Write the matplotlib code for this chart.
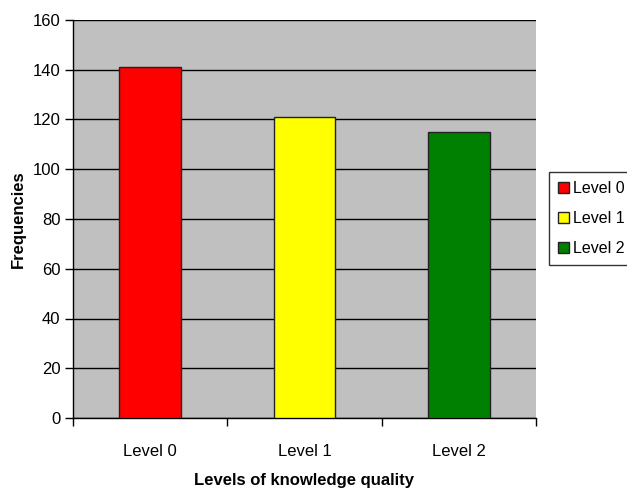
import matplotlib
matplotlib.use("Agg")
import matplotlib.pyplot as plt
from matplotlib.patches import Patch

categories = ["Level 0", "Level 1", "Level 2"]
frequencies = [141, 121, 115]
bar_colors = ["#FF0000", "#FFFF00", "#008000"]
y_ticks = [0, 20, 40, 60, 80, 100, 120, 140, 160]

plt.rcParams["font.family"] = ["Liberation Sans", "DejaVu Sans"]

fig = plt.figure(figsize=(6.27, 4.91), dpi=100)
ax = fig.add_axes([73 / 627, 73 / 491, 463 / 627, 398 / 491])
ax.set_facecolor("#C0C0C0")

x = list(range(len(categories)))
ax.bar(x, frequencies, width=0.4, color=bar_colors, edgecolor="#222222",
       linewidth=1.0, zorder=3)

ax.set_xlim(-0.5, len(categories) - 0.5)
ax.set_ylim(0, 160)
ax.set_yticks(y_ticks)
ax.yaxis.grid(True, color="#000000", linewidth=1.0, zorder=1)
ax.set_axisbelow(True)

# category boundaries get the tick marks, labels sit at category centres
ax.set_xticks([i - 0.5 for i in range(len(categories) + 1)])
ax.set_xticklabels([])
ax.set_xticks(x, minor=True)
ax.set_xticklabels(categories, minor=True)
ax.tick_params(axis="x", which="major", length=6, width=1, direction="out", color="#000000")
ax.tick_params(axis="x", which="minor", length=0, pad=19, labelsize=12)
ax.tick_params(axis="y", length=6, width=1, direction="out", labelsize=12, pad=3)

for side in ("top", "right"):
    ax.spines[side].set_visible(False)
for side in ("left", "bottom"):
    ax.spines[side].set_color("#000000")
    ax.spines[side].set_linewidth(1.0)

ax.set_ylabel("Frequencies", fontsize=12, fontweight="bold", labelpad=5)
ax.set_xlabel("Levels of knowledge quality", fontsize=12, fontweight="bold", labelpad=10)

handles = [Patch(facecolor=c, edgecolor="#222222", linewidth=1.0) for c in bar_colors]
leg = fig.legend(handles, categories, loc="upper left",
                 bbox_to_anchor=(549 / 627, 1 - 172 / 491),
                 fontsize=11.5, frameon=True, fancybox=False, edgecolor="#000000",
                 handlelength=0.7, handleheight=0.7, handletextpad=0.25,
                 labelspacing=0.95, borderpad=0.55, borderaxespad=0)
leg.get_frame().set_linewidth(1.0)

fig.savefig("out.png", dpi=100, facecolor="white")
